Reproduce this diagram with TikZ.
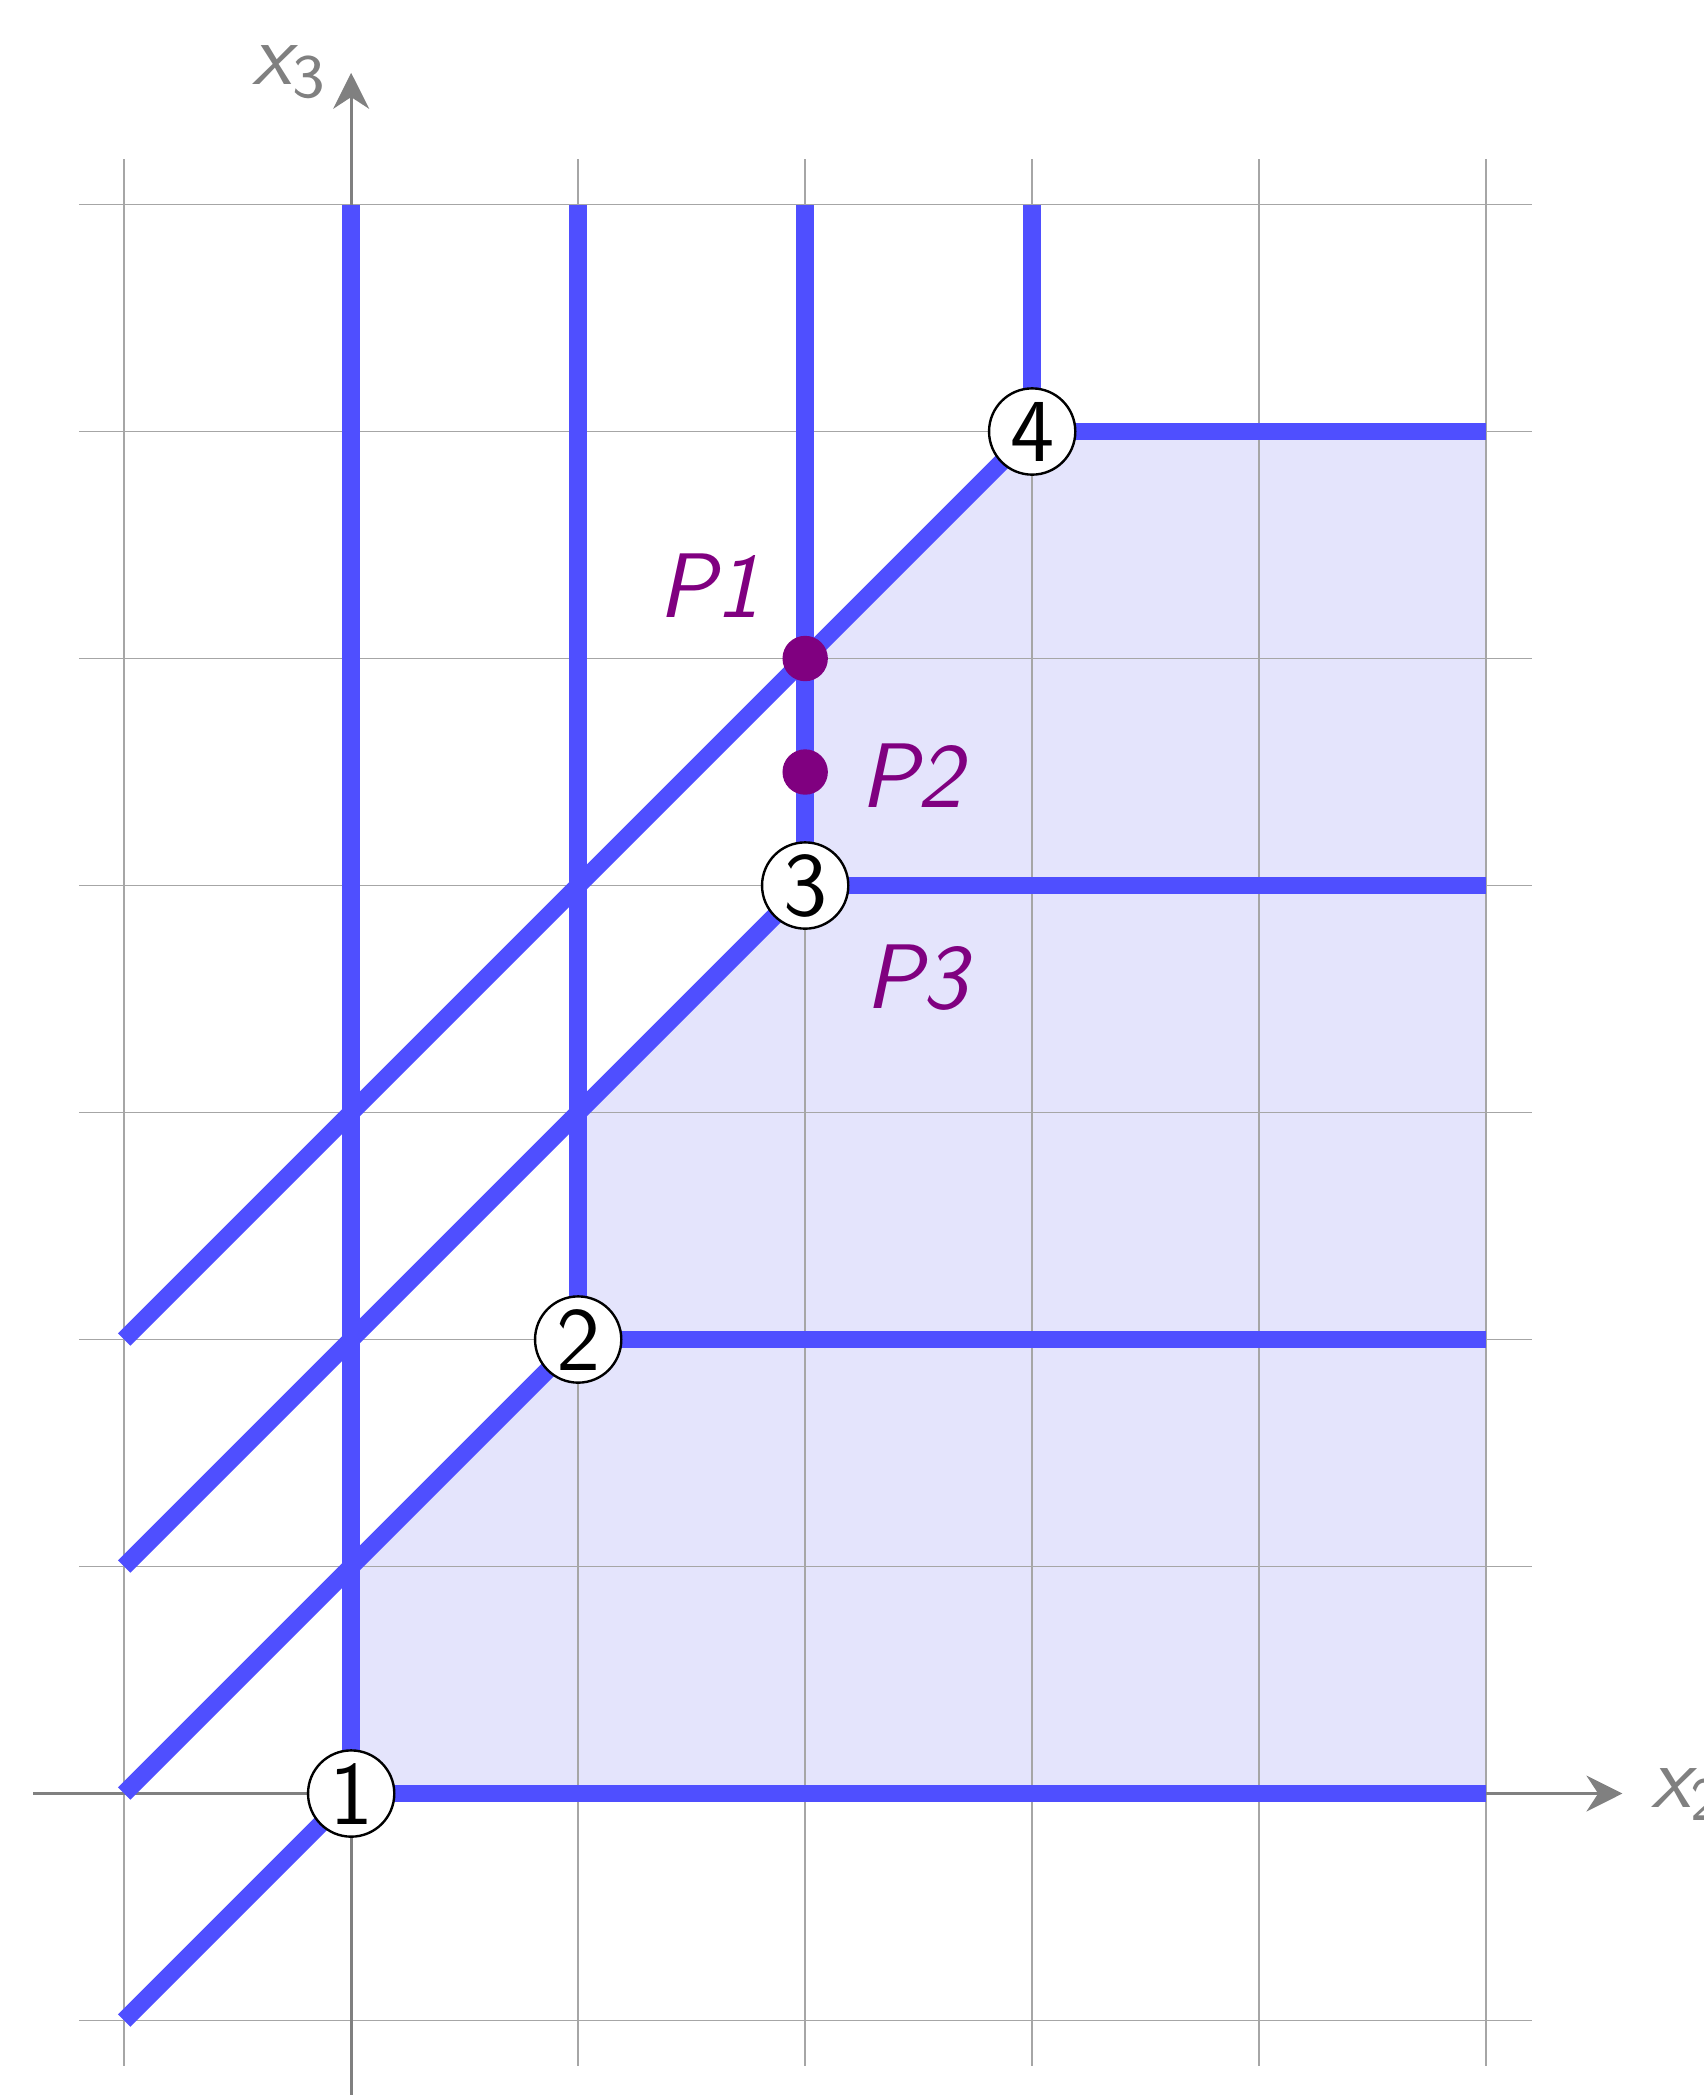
\documentclass[tikz,border=0pt]{standalone}
\usepackage{tikz}
\usetikzlibrary{arrows.meta}
\definecolor{lp-blue}{HTML}{4F4FFF}
\definecolor{lp-fill}{HTML}{E4E4FC}
\definecolor{lp-point}{HTML}{800080}
\definecolor{lp-axis}{HTML}{808080}

\begin{document}
\begin{tikzpicture}[
    x=1cm, y=1cm,
    >={Stealth[length=4.5pt,width=4.5pt]},
    gridline/.style={draw=lp-axis!70, line width=0.22pt},
    axis/.style={->, draw=lp-axis, line width=0.4pt},
    constr/.style={draw=lp-blue, line width=2.2pt},
    vertex/.style={circle, draw=black, fill=white, line width=0.3pt, minimum size=0.38cm, inner sep=0pt, font=\fontsize{11.3}{13}\sffamily},
    ptdot/.style={circle, fill=lp-point, minimum size=0.2cm, inner sep=0pt},
    ptlabel/.style={text=lp-point, font=\fontsize{11.5}{14}\sffamily\itshape},
    axlabel/.style={text=lp-axis, inner sep=0pt, font=\fontsize{11}{13}\sffamily\itshape}
]
\useasboundingbox (-1.547,-1.328) rectangle (5.956,7.901);

% =========================================================================
% REGIÃO VIÁVEL E GRADE
% =========================================================================
\fill[lp-fill] (0,0) -- (5,0) -- (5,6) -- (3,6) -- (2,5) -- (2,4) -- (1,3) -- (1,2) -- (0,1) -- cycle;
\draw[gridline] (-1.2,-1.2) grid (5.2,7.2);

% Eixos
\draw[axis] (-1.4,0) -- (5.6,0);
\draw[axis] (0,-1.5) -- (0,7.58);
\node[axlabel, anchor=base west] (xlab) at (5.72,-0.06) {x\textsubscript{\upshape 2}};
\node[axlabel, anchor=base west] (ylab) at (-0.44,7.53) {x\textsubscript{\upshape 3}};

% =========================================================================
% RESTRIÇÕES
% =========================================================================
\draw[constr] (0,0) -- (0,7);
\draw[constr] (1,2) -- (1,7);
\draw[constr] (2,4) -- (2,7);
\draw[constr] (3,6) -- (3,7);

\draw[constr] (0,0) -- (5,0);
\draw[constr] (1,2) -- (5,2);
\draw[constr] (2,4) -- (5,4);
\draw[constr] (3,6) -- (5,6);

\draw[constr] (-1,-1) -- (0,0);
\draw[constr] (-1,0) -- (1,2);
\draw[constr] (-1,1) -- (2,4);
\draw[constr] (-1,2) -- (3,6);

% =========================================================================
% VÉRTICES E PONTOS
% =========================================================================
\node[vertex] (v1) at (0,0) {1};
\node[vertex] (v2) at (1,2) {2};
\node[vertex] (v3) at (2,4) {3};
\node[vertex] (v4) at (3,6) {4};

\node[ptdot] (p1) at (2,5) {};
\node[ptdot] (p2) at (2,4.5) {};

\node[ptlabel] (p1lab) at (1.58,5.32) {P1};
\node[ptlabel] (p2lab) at (2.47,4.485) {P2};
\node[ptlabel] (p3lab) at (2.49,3.595) {P3};

\end{tikzpicture}
\end{document}
